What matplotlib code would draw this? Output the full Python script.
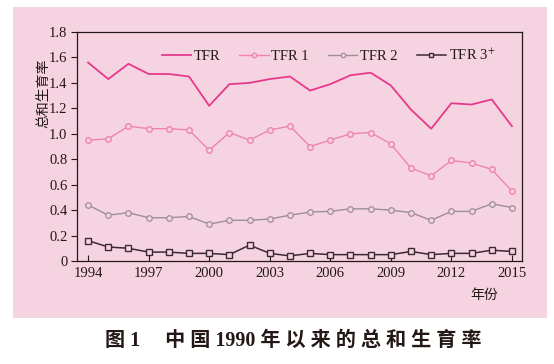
import matplotlib
matplotlib.use('Agg')
import matplotlib.pyplot as plt
from matplotlib.patches import Rectangle

# Data
years = list(range(1994, 2016))
tfr = [1.56, 1.43, 1.55, 1.47, 1.47, 1.45, 1.22, 1.39, 1.40, 1.43, 1.45,
       1.34, 1.39, 1.46, 1.48, 1.38, 1.19, 1.04, 1.24, 1.23, 1.27, 1.06]
tfr1 = [0.95, 0.96, 1.06, 1.04, 1.04, 1.03, 0.87, 1.01, 0.95, 1.03, 1.06,
        0.90, 0.95, 1.00, 1.01, 0.92, 0.73, 0.67, 0.79, 0.77, 0.72, 0.55]
tfr2 = [0.44, 0.36, 0.38, 0.34, 0.34, 0.35, 0.29, 0.32, 0.32, 0.33, 0.36,
        0.385, 0.39, 0.41, 0.41, 0.40, 0.38, 0.32, 0.39, 0.39, 0.45, 0.42]
tfr3 = [0.16, 0.11, 0.10, 0.07, 0.07, 0.06, 0.06, 0.05, 0.125, 0.06, 0.04,
        0.06, 0.05, 0.05, 0.05, 0.05, 0.075, 0.05, 0.06, 0.06, 0.085, 0.075]
xticks = [1994, 1997, 2000, 2003, 2006, 2009, 2012, 2015]
yticks = [0, 0.2, 0.4, 0.6, 0.8, 1.0, 1.2, 1.4, 1.6, 1.8]
ytick_labels = ['0', '0.2', '0.4', '0.6', '0.8', '1.0', '1.2', '1.4', '1.6', '1.8']

BG = '#F6D3E1'
INK = '#231815'
CJK = ['Noto Sans CJK SC', 'DejaVu Sans']
plt.rcParams['font.family'] = ['Liberation Serif', 'Noto Sans CJK SC']
plt.rcParams['mathtext.fontset'] = 'stix'

fig = plt.figure(figsize=(5.54, 3.64), dpi=100)
fig.patch.set_facecolor('white')
# pink panel behind the plot
fig.patches.append(Rectangle((13 / 554, 1 - 318 / 364), 534 / 554, 311 / 364,
                             transform=fig.transFigure, facecolor=BG,
                             edgecolor='none', zorder=-5))

ax = fig.add_axes([77 / 554, 1 - 261 / 364, 445 / 554, 229 / 364])
ax.set_zorder(2)
ax.set_facecolor(BG)

ax.plot(years, tfr, color='#E6398B', linewidth=1.3, label='TFR')
ax.plot(years, tfr1, color='#EE84B0', linewidth=1.0, marker='o', markersize=4,
        markerfacecolor=BG, markeredgewidth=1.0, label='TFR 1')
ax.plot(years, tfr2, color='#9C8F96', linewidth=1.0, marker='o', markersize=4,
        markerfacecolor=BG, markeredgewidth=0.9, label='TFR 2')
ax.plot(years, tfr3, color='#3B2A31', linewidth=1.1, marker='s', markersize=4,
        markerfacecolor=BG, markeredgewidth=1.0, label='TFR 3$^{+}$')

ax.set_xlim(1993.45, 2015.5)
ax.set_ylim(0, 1.8)
ax.set_xticks(xticks)
ax.set_xticklabels([str(y) for y in xticks], fontsize=10.5)
ax.set_yticks(yticks)
ax.set_yticklabels(ytick_labels, fontsize=10.5)
ax.tick_params(axis='x', direction='in', length=4, width=0.8, pad=4, colors=INK)
ax.tick_params(axis='y', direction='out', length=4, width=0.8, pad=3, colors=INK)
for s in ax.spines.values():
    s.set_linewidth(0.9)
    s.set_color(INK)

leg = ax.legend(loc='upper center', bbox_to_anchor=(0.565, 0.99), ncol=4,
                frameon=False, fontsize=10.5, handlelength=2.0,
                handletextpad=0.2, columnspacing=1.3, markerscale=0.8)
for t in leg.get_texts():
    t.set_color(INK)

fig.text(43 / 554, 1 - 93 / 364, '总和生育率', rotation=90, ha='center',
         va='center', family=CJK, fontsize=10, color=INK)
fig.text(484 / 554, 1 - 295 / 364, '年份', ha='center', va='center',
         family=CJK, fontsize=10, color=INK)
fig.text(293 / 554, 1 - 341 / 364,
         '图 1     中 国 1990 年 以 来 的 总 和 生 育 率',
         ha='center', va='center', fontsize=14.5,
         fontweight='bold', color=INK)

fig.savefig('out.png', dpi=100, facecolor='white')
